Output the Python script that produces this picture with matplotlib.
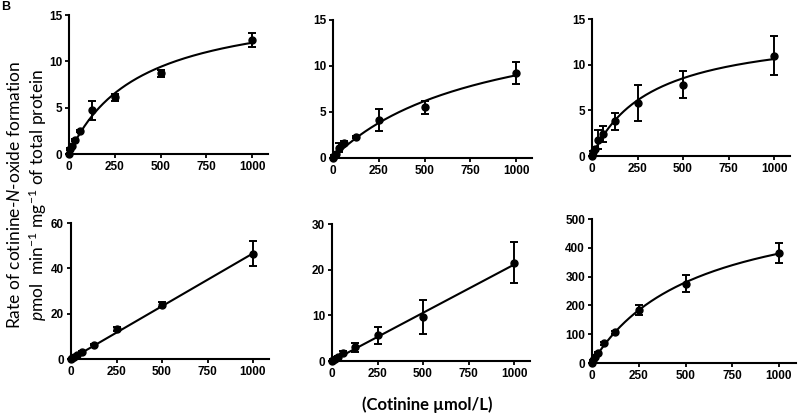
import matplotlib
matplotlib.use("Agg")
import matplotlib.pyplot as plt
import numpy as np

# cotinine concentrations (umol/L)
conc = [0, 8, 15, 31.25, 62.5, 125, 250, 500, 1000]

# mean rates and SD for each panel
rate_a = [0, 0.5, 0.9, 1.5, 2.5, 4.7, 6.1, 8.7, 12.3]
err_a = [0, 0.1, 0.1, 0.1, 0.1, 1.0, 0.4, 0.4, 0.8]
rate_b = [0, 0.2, 0.4, 1.1, 1.6, 2.3, 4.1, 5.5, 9.2]
err_b = [0, 0.1, 0.1, 0.5, 0.2, 0.1, 1.2, 0.7, 1.2]
rate_c = [0, 0.4, 0.8, 1.8, 2.4, 3.8, 5.8, 7.8, 11.0]
err_c = [0, 0.2, 0.2, 1.0, 0.9, 0.9, 2.0, 1.5, 2.1]
rate_d = [0, 0.5, 1.0, 1.6, 3.2, 6.3, 13.2, 24.0, 46.5]
err_d = [0, 0.1, 0.1, 0.3, 0.3, 0.3, 1.0, 1.2, 5.5]
rate_e = [0, 0.3, 0.5, 0.9, 1.8, 3.0, 5.6, 9.6, 21.5]
err_e = [0, 0.1, 0.1, 0.2, 0.3, 1.0, 1.8, 3.7, 4.5]
rate_f = [0, 10, 20, 35, 68, 107, 185, 275, 382]
err_f = [0, 2, 3, 4, 4, 5, 18, 30, 35]

# fit parameters: Michaelis-Menten (Vmax, Km) or linear (slope)
fit_a = ("mm", 16.6, 383)
fit_b = ("mm", 16.4, 825)
fit_c = ("mm", 14.1, 328)
fit_d = ("lin", 0.0466)
fit_e = ("lin", 0.0211)
fit_f = ("mm", 591, 555)

y_tops = [15, 15, 15, 60, 30, 500]
y_steps = [5, 5, 5, 20, 10, 100]
x_ticks = [0, 250, 500, 750, 1000]

W, H = 800, 415
# (left, top(ymax), bottom(y=0), x at 1000) in pixels
boxes = [(69, 15, 154, 252), (333, 20, 158, 516), (592, 19, 156, 774),
         (71, 223, 359, 253), (332, 224, 361, 514), (592, 219, 363, 779)]
xmax = 1090

plt.rcParams['font.family'] = ['Liberation Sans', 'DejaVu Sans']
plt.rcParams['mathtext.fontset'] = 'custom'
plt.rcParams['mathtext.rm'] = 'Lato'
plt.rcParams['mathtext.it'] = 'Lato:italic'
fig = plt.figure(figsize=(8, 4.15), dpi=100)

panels = [(rate_a, err_a, fit_a), (rate_b, err_b, fit_b), (rate_c, err_c, fit_c),
          (rate_d, err_d, fit_d), (rate_e, err_e, fit_e), (rate_f, err_f, fit_f)]

for i, (rate, err, fit) in enumerate(panels):
    left, top, bottom, x1000 = boxes[i]
    width = (x1000 - left) / 1000 * xmax
    ax = fig.add_axes([left / W, 1 - bottom / H, width / W, (bottom - top) / H])
    ax.errorbar(conc, rate, yerr=err, fmt='o', color='black', ms=5,
                capsize=3.2, elinewidth=1.4, capthick=1.4, clip_on=False, zorder=3)
    xs = np.linspace(0, 1000, 200)
    if fit[0] == "mm":
        ys = fit[1] * xs / (fit[2] + xs)
    else:
        ys = fit[1] * xs
    ax.plot(xs, ys, color='black', lw=1.5, clip_on=False)
    ax.set_xlim(0, xmax)
    ax.set_ylim(0, y_tops[i])
    ax.set_xticks(x_ticks)
    ax.set_yticks(np.arange(0, y_tops[i] + 1, y_steps[i]))
    for s in ['top', 'right']:
        ax.spines[s].set_visible(False)
    for s in ['left', 'bottom']:
        ax.spines[s].set_linewidth(1.5)
    ax.tick_params(width=1.3, length=3, labelsize=8.5, pad=2)
    for lab in ax.get_xticklabels() + ax.get_yticklabels():
        lab.set_fontweight('bold')

fig.text(15 / W, 1 - 195 / H, "Rate of cotinine-$\\mathit{N}$-oxide formation",
         rotation=90, ha='center', va='center', fontsize=12.5, family='Lato')
fig.text(38 / W, 1 - 195 / H, "$\\mathit{p}$mol  min$^{-1}$ mg$^{-1}$ of total protein",
         rotation=90, ha='center', va='center', fontsize=12.5, family='Lato')
fig.text(427 / W, 1 - 405 / H, "(Cotinine \u00b5mol/L)", ha='center', va='center',
         fontsize=12, fontweight='bold', family='Lato')
fig.text(0.002, 0.998, "B", ha='left', va='top', fontsize=9, fontweight='bold')

fig.savefig("out.png", dpi=100)
